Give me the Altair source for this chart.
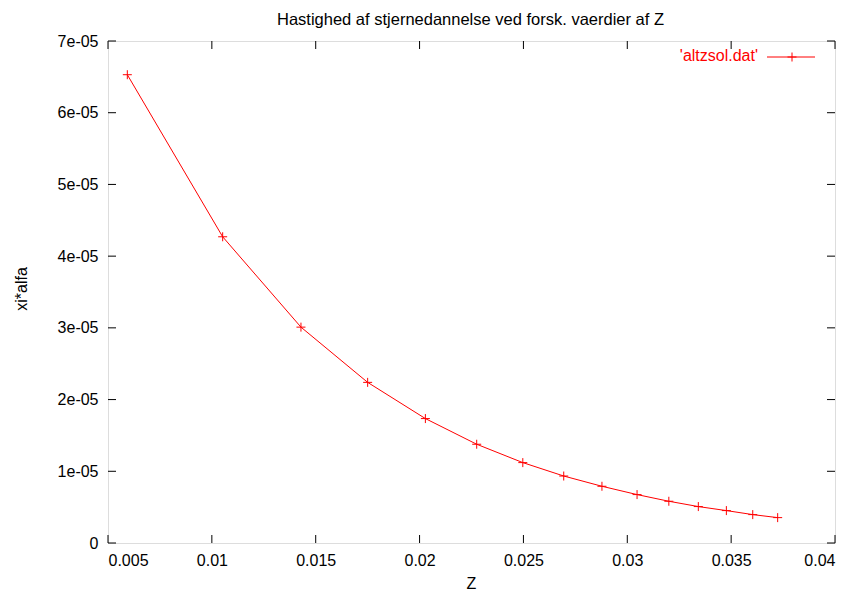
import altair as alt
import pandas as pd

z_values = [0.00593, 0.01052, 0.01429, 0.0175, 0.02028, 0.02275, 0.02497, 0.02694,
            0.02878, 0.03047, 0.032, 0.03342, 0.03477, 0.03604, 0.03724]
xi_alfa = [6.53e-05, 4.27e-05, 3.01e-05, 2.24e-05, 1.735e-05, 1.377e-05, 1.121e-05, 0.934e-05,
           0.791e-05, 0.675e-05, 0.582e-05, 0.508e-05, 0.452e-05, 0.396e-05, 0.354e-05]

x_ticks = [0.005, 0.01, 0.015, 0.02, 0.025, 0.03, 0.035, 0.04]
y_ticks = [0, 1e-05, 2e-05, 3e-05, 4e-05, 5e-05, 6e-05, 7e-05]
y_tick_labels = ["0", "1e-05", "2e-05", "3e-05", "4e-05", "5e-05", "6e-05", "7e-05"]

title_text = "Hastighed af stjernedannelse ved forsk. vaerdier af Z"
x_title = "Z"
y_title = "xi*alfa"
legend_label = "'altzsol.dat'"

W, H = 727, 502
FONT = "Liberation Sans"
FS = 16
RED = "#ff0000"
TL = 8

df = pd.DataFrame({"z": z_values, "v": xi_alfa})
xt = pd.DataFrame({"t": x_ticks})
yt = pd.DataFrame({"t": y_ticks})
one = pd.DataFrame({"title": [title_text], "xt": [x_title], "yt": [y_title],
                    "label": [legend_label]})

ylab_expr = "[" + ",".join(f"'{l}'" for l in y_tick_labels) + "][round(datum.value*1e5)]"

xscale = alt.Scale(domain=[0.005, 0.04], nice=False, zero=False)
yscale = alt.Scale(domain=[0, 7e-05], nice=False, zero=False)

xaxis = alt.Axis(values=x_ticks, ticks=False, domain=False, grid=False,
                 labelExpr="format(datum.value, '.3~f')",
                 labelFont=FONT, labelFontSize=FS, labelColor="black", labelPadding=9,
                 title=None)
yaxis = alt.Axis(values=y_ticks, ticks=False, domain=False, grid=False,
                 labelExpr=ylab_expr,
                 labelFont=FONT, labelFontSize=FS, labelColor="black", labelPadding=10,
                 title=None)

base = alt.Chart(df)
line = base.mark_line(color=RED, strokeWidth=1).encode(
    x=alt.X("z:Q", scale=xscale, axis=xaxis),
    y=alt.Y("v:Q", scale=yscale, axis=yaxis),
)
PLUS = "M-1,0L1,0M0,-1L0,1"
pts = base.mark_point(shape=PLUS, size=81, color=RED, filled=False, strokeWidth=1, opacity=1).encode(
    x=alt.X("z:Q", scale=xscale), y=alt.Y("v:Q", scale=yscale))

xb = alt.Chart(xt).mark_rule(color="black", strokeWidth=1).encode(
    x=alt.X("t:Q", scale=xscale), y=alt.value(H), y2=alt.value(H - TL))
xtop = alt.Chart(xt).mark_rule(color="black", strokeWidth=1).encode(
    x=alt.X("t:Q", scale=xscale), y=alt.value(0), y2=alt.value(TL))
yl = alt.Chart(yt).mark_rule(color="black", strokeWidth=1).encode(
    y=alt.Y("t:Q", scale=yscale), x=alt.value(0), x2=alt.value(TL))
yr = alt.Chart(yt).mark_rule(color="black", strokeWidth=1).encode(
    y=alt.Y("t:Q", scale=yscale), x=alt.value(W), x2=alt.value(W - TL))

ttl = alt.Chart(one).mark_text(align="center", baseline="alphabetic", font=FONT,
                               fontSize=16.5, color="black").encode(
    text="title:N", x=alt.value(W / 2 - 1), y=alt.value(-16.5))
xtt = alt.Chart(one).mark_text(align="center", baseline="alphabetic", font=FONT,
                               fontSize=FS, color="black").encode(
    text="xt:N", x=alt.value(W / 2), y=alt.value(H + 46))
ytt = alt.Chart(one).mark_text(align="center", baseline="alphabetic", font=FONT,
                               fontSize=FS, color="black", angle=270).encode(
    text="yt:N", x=alt.value(-81), y=alt.value(H / 2 - 3))

leg_text = alt.Chart(one).mark_text(align="right", baseline="middle", font=FONT,
                                    fontSize=FS, color=RED).encode(
    text="label:N", x=alt.value(650), y=alt.value(15))
leg_line = alt.Chart(one).mark_rule(color=RED, strokeWidth=1).encode(
    x=alt.value(659), x2=alt.value(707), y=alt.value(16))
leg_pt = alt.Chart(one).mark_point(shape=PLUS, size=81, color=RED, filled=False,
                                   strokeWidth=1, opacity=1).encode(
    x=alt.value(684), y=alt.value(16))

chart = alt.layer(line, pts, xb, xtop, yl, yr, ttl, xtt, ytt,
                  leg_text, leg_line, leg_pt).properties(
    width=W, height=H,
    autosize=alt.AutoSizeParams(type="none"),
    padding={"left": 100, "top": 33, "right": 14, "bottom": 48},
).configure_view(stroke="black", strokeWidth=1).configure(background="white")

chart.save("out.html", embed_options={"renderer": "svg", "actions": False})
